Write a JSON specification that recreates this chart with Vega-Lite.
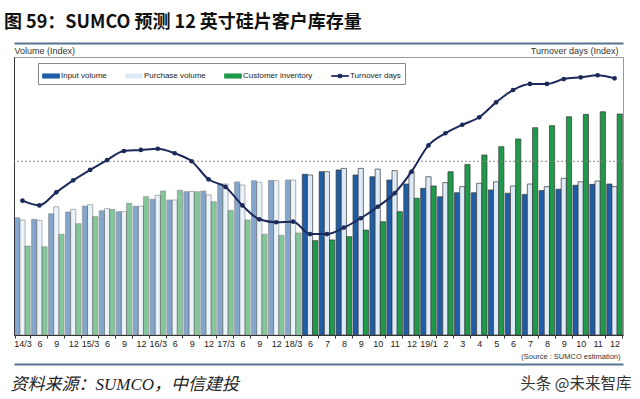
{
"$schema": "https://vega.github.io/schema/vega-lite/v6.json",
"width": 609, "height": 278,
"autosize": {"type": "none"},
"padding": {"left": 14, "top": 57, "right": 17, "bottom": 64},
"background": "white",
"title": {"text": "图 59：SUMCO 预测 12 英寸硅片客户库存量", "anchor": "start", "font": "Noto Sans CJK SC", "fontSize": 18, "fontWeight": "bold", "color": "#111", "dx": -6, "offset": 11},
"config": {"view": {"stroke": "#999"}, "font": "Liberation Sans"},
"datasets": {
"bars": [
{"t":"14/3","s":"Input volume","v":67.5,"p":"a"},{"t":"14/3","s":"Purchase volume","v":66.2,"p":"a"},{"t":"14/3","s":"Customer inventory","v":51.2,"p":"a"},
{"t":"14/6","s":"Input volume","v":66.6,"p":"a"},{"t":"14/6","s":"Purchase volume","v":66.0,"p":"a"},{"t":"14/6","s":"Customer inventory","v":50.8,"p":"a"},
{"t":"14/9","s":"Input volume","v":69.8,"p":"a"},{"t":"14/9","s":"Purchase volume","v":73.8,"p":"a"},{"t":"14/9","s":"Customer inventory","v":58.0,"p":"a"},
{"t":"14/12","s":"Input volume","v":70.8,"p":"a"},{"t":"14/12","s":"Purchase volume","v":72.3,"p":"a"},{"t":"14/12","s":"Customer inventory","v":64.1,"p":"a"},
{"t":"15/3","s":"Input volume","v":74.2,"p":"a"},{"t":"15/3","s":"Purchase volume","v":75.0,"p":"a"},{"t":"15/3","s":"Customer inventory","v":68.1,"p":"a"},
{"t":"15/6","s":"Input volume","v":71.5,"p":"a"},{"t":"15/6","s":"Purchase volume","v":72.7,"p":"a"},{"t":"15/6","s":"Customer inventory","v":72.3,"p":"a"},
{"t":"15/9","s":"Input volume","v":71.0,"p":"a"},{"t":"15/9","s":"Purchase volume","v":71.0,"p":"a"},{"t":"15/9","s":"Customer inventory","v":75.8,"p":"a"},
{"t":"15/12","s":"Input volume","v":74.1,"p":"a"},{"t":"15/12","s":"Purchase volume","v":74.1,"p":"a"},{"t":"15/12","s":"Customer inventory","v":79.6,"p":"a"},
{"t":"16/3","s":"Input volume","v":78.1,"p":"a"},{"t":"16/3","s":"Purchase volume","v":80.4,"p":"a"},{"t":"16/3","s":"Customer inventory","v":82.9,"p":"a"},
{"t":"16/6","s":"Input volume","v":77.7,"p":"a"},{"t":"16/6","s":"Purchase volume","v":77.7,"p":"a"},{"t":"16/6","s":"Customer inventory","v":83.3,"p":"a"},
{"t":"16/9","s":"Input volume","v":82.5,"p":"a"},{"t":"16/9","s":"Purchase volume","v":82.7,"p":"a"},{"t":"16/9","s":"Customer inventory","v":82.5,"p":"a"},
{"t":"16/12","s":"Input volume","v":82.9,"p":"a"},{"t":"16/12","s":"Purchase volume","v":80.6,"p":"a"},{"t":"16/12","s":"Customer inventory","v":76.7,"p":"a"},
{"t":"17/3","s":"Input volume","v":86.9,"p":"a"},{"t":"17/3","s":"Purchase volume","v":86.9,"p":"a"},{"t":"17/3","s":"Customer inventory","v":71.7,"p":"a"},
{"t":"17/6","s":"Input volume","v":88.1,"p":"a"},{"t":"17/6","s":"Purchase volume","v":86.3,"p":"a"},{"t":"17/6","s":"Customer inventory","v":66.2,"p":"a"},
{"t":"17/9","s":"Input volume","v":88.8,"p":"a"},{"t":"17/9","s":"Purchase volume","v":87.9,"p":"a"},{"t":"17/9","s":"Customer inventory","v":58.0,"p":"a"},
{"t":"17/12","s":"Input volume","v":89.0,"p":"a"},{"t":"17/12","s":"Purchase volume","v":88.8,"p":"a"},{"t":"17/12","s":"Customer inventory","v":57.4,"p":"a"},
{"t":"18/3","s":"Input volume","v":89.2,"p":"a"},{"t":"18/3","s":"Purchase volume","v":89.2,"p":"a"},{"t":"18/3","s":"Customer inventory","v":58.7,"p":"a"},
{"t":"18/6","s":"Input volume","v":92.5,"p":"f"},{"t":"18/6","s":"Purchase volume","v":92.1,"p":"f"},{"t":"18/6","s":"Customer inventory","v":54.3,"p":"f"},
{"t":"18/7","s":"Input volume","v":94.0,"p":"f"},{"t":"18/7","s":"Purchase volume","v":94.0,"p":"f"},{"t":"18/7","s":"Customer inventory","v":54.7,"p":"f"},
{"t":"18/8","s":"Input volume","v":95.0,"p":"f"},{"t":"18/8","s":"Purchase volume","v":95.9,"p":"f"},{"t":"18/8","s":"Customer inventory","v":56.6,"p":"f"},
{"t":"18/9","s":"Input volume","v":92.1,"p":"f"},{"t":"18/9","s":"Purchase volume","v":95.9,"p":"f"},{"t":"18/9","s":"Customer inventory","v":60.4,"p":"f"},
{"t":"18/10","s":"Input volume","v":91.1,"p":"f"},{"t":"18/10","s":"Purchase volume","v":95.5,"p":"f"},{"t":"18/10","s":"Customer inventory","v":65.2,"p":"f"},
{"t":"18/11","s":"Input volume","v":89.2,"p":"f"},{"t":"18/11","s":"Purchase volume","v":94.6,"p":"f"},{"t":"18/11","s":"Customer inventory","v":71.0,"p":"f"},
{"t":"18/12","s":"Input volume","v":86.9,"p":"f"},{"t":"18/12","s":"Purchase volume","v":94.0,"p":"f"},{"t":"18/12","s":"Customer inventory","v":78.7,"p":"f"},
{"t":"19/1","s":"Input volume","v":84.4,"p":"f"},{"t":"19/1","s":"Purchase volume","v":91.1,"p":"f"},{"t":"19/1","s":"Customer inventory","v":85.8,"p":"f"},
{"t":"19/2","s":"Input volume","v":79.6,"p":"f"},{"t":"19/2","s":"Purchase volume","v":87.7,"p":"f"},{"t":"19/2","s":"Customer inventory","v":94.0,"p":"f"},
{"t":"19/3","s":"Input volume","v":81.9,"p":"f"},{"t":"19/3","s":"Purchase volume","v":85.4,"p":"f"},{"t":"19/3","s":"Customer inventory","v":98.2,"p":"f"},
{"t":"19/4","s":"Input volume","v":81.9,"p":"f"},{"t":"19/4","s":"Purchase volume","v":87.3,"p":"f"},{"t":"19/4","s":"Customer inventory","v":103.6,"p":"f"},
{"t":"19/5","s":"Input volume","v":83.5,"p":"f"},{"t":"19/5","s":"Purchase volume","v":88.2,"p":"f"},{"t":"19/5","s":"Customer inventory","v":108.4,"p":"f"},
{"t":"19/6","s":"Input volume","v":81.6,"p":"f"},{"t":"19/6","s":"Purchase volume","v":85.8,"p":"f"},{"t":"19/6","s":"Customer inventory","v":112.8,"p":"f"},
{"t":"19/7","s":"Input volume","v":80.9,"p":"f"},{"t":"19/7","s":"Purchase volume","v":86.9,"p":"f"},{"t":"19/7","s":"Customer inventory","v":119.3,"p":"f"},
{"t":"19/8","s":"Input volume","v":83.1,"p":"f"},{"t":"19/8","s":"Purchase volume","v":85.4,"p":"f"},{"t":"19/8","s":"Customer inventory","v":120.5,"p":"f"},
{"t":"19/9","s":"Input volume","v":83.9,"p":"f"},{"t":"19/9","s":"Purchase volume","v":90.2,"p":"f"},{"t":"19/9","s":"Customer inventory","v":125.6,"p":"f"},
{"t":"19/10","s":"Input volume","v":86.2,"p":"f"},{"t":"19/10","s":"Purchase volume","v":88.2,"p":"f"},{"t":"19/10","s":"Customer inventory","v":127.0,"p":"f"},
{"t":"19/11","s":"Input volume","v":86.7,"p":"f"},{"t":"19/11","s":"Purchase volume","v":88.6,"p":"f"},{"t":"19/11","s":"Customer inventory","v":128.5,"p":"f"},
{"t":"19/12","s":"Input volume","v":86.9,"p":"f"},{"t":"19/12","s":"Purchase volume","v":85.4,"p":"f"},{"t":"19/12","s":"Customer inventory","v":127.2,"p":"f"}
],
"turn": [
{"t":"14/3","d":77.3},{"t":"14/6","d":74.6},{"t":"14/9","d":82.1},{"t":"14/12","d":89.0},
{"t":"15/3","d":95.0},{"t":"15/6","d":100.7},{"t":"15/9","d":105.9},{"t":"15/12","d":106.5},
{"t":"16/3","d":107.2},{"t":"16/6","d":104.6},{"t":"16/9","d":100.0},{"t":"16/12","d":89.6},
{"t":"17/3","d":85.2},{"t":"17/6","d":74.6},{"t":"17/9","d":66.6},{"t":"17/12","d":64.9},
{"t":"18/3","d":65.2},{"t":"18/6","d":58.1},{"t":"18/7","d":58.1},{"t":"18/8","d":61.8},
{"t":"18/9","d":67.2},{"t":"18/10","d":73.8},{"t":"18/11","d":81.6},{"t":"18/12","d":94.0},
{"t":"19/1","d":109.1},{"t":"19/2","d":116.1},{"t":"19/3","d":121.0},{"t":"19/4","d":125.3},
{"t":"19/5","d":133.9},{"t":"19/6","d":141.0},{"t":"19/7","d":144.5},{"t":"19/8","d":144.5},
{"t":"19/9","d":147.3},{"t":"19/10","d":148.3},{"t":"19/11","d":149.5},{"t":"19/12","d":147.7}
]
},
"layer": [
{
"data": {"name": "bars"},
"mark": {"type": "bar", "stroke": "#3a3a3a", "strokeWidth": 0.7},
"encoding": {
"x": {"field": "t", "type": "ordinal", "sort": null,
 "scale": {"paddingInner": 0.08, "paddingOuter": 0.04},
 "axis": {"orient": "bottom", "labelExpr": "indexof(['14/3','15/3','16/3','17/3','18/3','19/1'], datum.value) >= 0 ? datum.value : split(datum.value, '/')[1]",
  "labelAngle": 0, "labelFontSize": 9, "labelColor": "#222", "labelPadding": 1, "tickBand": "extent", "tickSize": 3, "tickColor": "#333", "domainColor": "#333",
  "title": "(Source : SUMCO estimation)", "titleFontSize": 7.5, "titleFontWeight": "normal", "titleColor": "#333", "titleAlign": "right", "titleX": 606, "titleY": 23, "titleBaseline": "alphabetic"}},
"xOffset": {"field": "s", "type": "nominal", "sort": ["Input volume", "Purchase volume", "Customer inventory"], "scale": {"paddingInner": 0, "paddingOuter": 0}},
"y": {"field": "v", "type": "quantitative", "scale": {"domain": [0, 160], "nice": false},
 "axis": {"orient": "left", "labels": false, "ticks": false, "grid": false, "domainColor": "#333", "title": "Volume (Index)", "titleAngle": 0, "titleAlign": "left", "titleX": 0, "titleY": -2, "titleBaseline": "bottom", "titleFontSize": 9, "titleFontWeight": "normal", "titleColor": "#333"}},
"color": {"field": "s", "type": "nominal",
 "scale": {"domain": ["Input volume", "Purchase volume", "Customer inventory", "Turnover days"], "range": ["#1f5ea6", "#dcebf7", "#1f9a4a", "#1b2a5a"]},
 "legend": {"orient": "none", "legendX": 24, "legendY": 6, "direction": "horizontal", "title": null, "strokeColor": "#888", "fillColor": "white", "padding": 4,
  "labelFont": "Liberation Sans", "labelFontSize": 8, "labelColor": "#222", "symbolType": "M-1,-0.25H1V0.25H-1Z", "symbolSize": 289, "symbolStrokeColor": "#333", "symbolStrokeWidth": 0.8, "columnPadding": 16, "labelOffset": 1,
  "encoding": {"symbols": {
   "shape": {"value": {"expr": "datum.value === 'Turnover days' ? 'M-1,-0.05H1V0.05H-1Z M-0.2,-0.2H0.2V0.2H-0.2Z' : 'M-1,-0.25H1V0.25H-1Z'"}},
   "stroke": {"value": {"expr": "datum.value === 'Turnover days' ? '#1b2a5a' : '#333'"}}}}}},
"opacity": {"field": "p", "type": "nominal", "scale": {"domain": ["a", "f"], "range": [0.55, 1]}, "legend": null}
}
},
{
"data": {"values": [{}]},
"mark": {"type": "rule", "strokeDash": [2, 2], "color": "#888", "strokeWidth": 1},
"encoding": {"y": {"datum": 100, "type": "quantitative", "scale": {"domain": [0, 160], "nice": false}, "axis": null}}
},
{
"data": {"name": "turn"},
"mark": {"type": "line", "interpolate": "monotone", "strokeWidth": 2},
"encoding": {
"x": {"field": "t", "type": "ordinal", "sort": null,
 "axis": {"orient": "top", "offset": 14, "labels": false, "ticks": false, "domainColor": "#56748f", "domainWidth": 2,
  "title": "头条 @未来智库", "titleX": 617, "titleY": 345, "titleAlign": "right", "titleBaseline": "alphabetic", "titleFont": "Noto Sans CJK SC", "titleFontSize": 15.5, "titleFontWeight": "normal", "titleColor": "#333"}},
"y": {"field": "d", "type": "quantitative", "scale": {"domain": [0, 160], "nice": false},
 "axis": {"orient": "right", "labels": false, "ticks": false, "domain": false, "grid": false, "title": "Turnover days (Index)", "titleAngle": 0, "titleAlign": "right", "titleX": -5, "titleY": -2, "titleBaseline": "bottom", "titleFontSize": 9, "titleFontWeight": "normal", "titleColor": "#333"}},
"color": {"datum": "Turnover days", "type": "nominal"}
}
},
{
"data": {"name": "turn"},
"mark": {"type": "point", "filled": true, "size": 22, "opacity": 1},
"encoding": {
"x": {"field": "t", "type": "ordinal", "sort": null,
 "axis": {"orient": "bottom", "offset": 29, "labels": false, "ticks": false, "domainColor": "#56748f", "domainWidth": 2,
  "title": "资料来源：SUMCO，中信建投", "titleX": -4, "titleY": 25, "titleAlign": "left", "titleBaseline": "alphabetic", "titleFont": "Liberation Serif, Noto Sans CJK SC", "titleFontStyle": "italic", "titleFontSize": 17, "titleFontWeight": "normal", "titleColor": "#222"}},
"y": {"field": "d", "type": "quantitative", "scale": {"domain": [0, 160], "nice": false}, "axis": null},
"color": {"datum": "Turnover days", "type": "nominal"}
}
}
],
"resolve": {"axis": {"x": "independent", "y": "independent"}}
}
